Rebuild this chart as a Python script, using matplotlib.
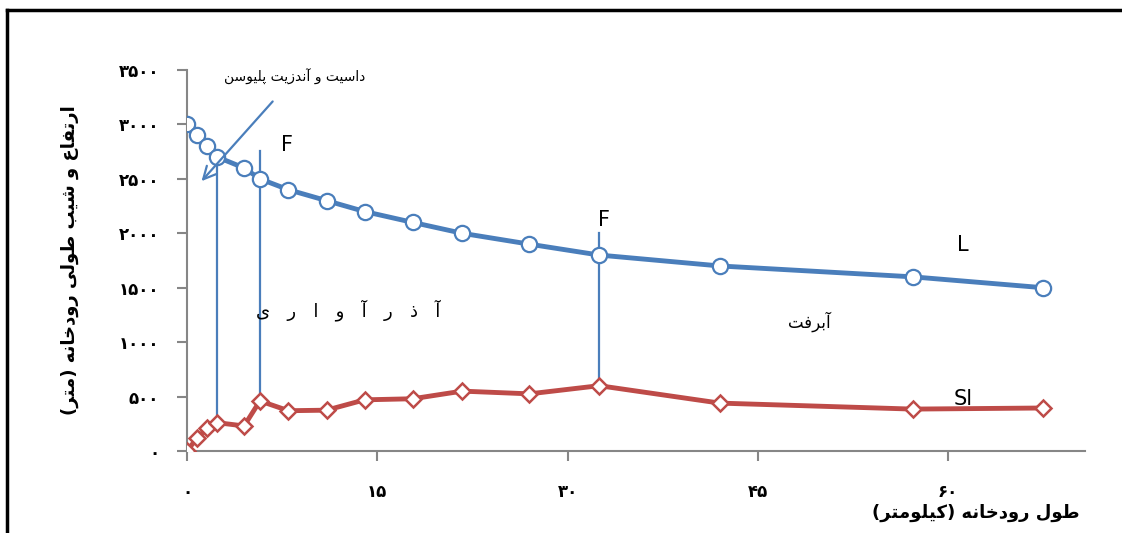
import numpy as np
import matplotlib
matplotlib.use("Agg")
from matplotlib import pyplot as plt
from matplotlib.lines import Line2D

plt.rcParams['font.family'] = ['DejaVu Sans']

# dados
dist = [0, 0.8, 1.6, 2.4, 4.5, 5.75, 8.0, 11.0, 14.0, 17.8, 21.7, 27.0, 32.5, 42.0, 57.2, 67.5]
L = [3000, 2900, 2800, 2700, 2600, 2500, 2400, 2300, 2200, 2100, 2000, 1900, 1800, 1700, 1600, 1500]
Sl = [0, 120, 210, 260, 230, 460, 370, 375, 470, 480, 550, 525, 600, 440, 385, 395]

xticks = [0, 15, 30, 45, 60]
yticks = [0, 500, 1000, 1500, 2000, 2500, 3000, 3500]

ylabel = "ارتفاع و شیب طولی رودخانه (متر)"
xlabel = "طول رودخانه (کیلومتر)"
txt_dacite = "داسیت و آندزیت پلیوسن"
txt_pyro = "آ   ذ   ر   آ   و   ا   ر   ی"
txt_alluv = "آبرفت"

# linhas de falha: x, topo, base
falhas_x = [2.4, 5.75, 32.5]
falhas_top = [2700, 2760, 2000]
falhas_base = [260, 460, 600]

# formas de apresentação (isolada, final, inicial, medial)
FORMS = {
    'ا': ('\uFE8D', '\uFE8E'),
    'آ': ('\uFE81', '\uFE82'),
    'د': ('\uFEA9', '\uFEAA'),
    'ذ': ('\uFEAB', '\uFEAC'),
    'ر': ('\uFEAD', '\uFEAE'),
    'ز': ('\uFEAF', '\uFEB0'),
    'و': ('\uFEED', '\uFEEE'),
    'ب': ('\uFE8F', '\uFE90', '\uFE91', '\uFE92'),
    'پ': ('\uFB56', '\uFB57', '\uFB58', '\uFB59'),
    'ت': ('\uFE95', '\uFE96', '\uFE97', '\uFE98'),
    'خ': ('\uFEA5', '\uFEA6', '\uFEA7', '\uFEA8'),
    'س': ('\uFEB1', '\uFEB2', '\uFEB3', '\uFEB4'),
    'ش': ('\uFEB5', '\uFEB6', '\uFEB7', '\uFEB8'),
    'ط': ('\uFEC1', '\uFEC2', '\uFEC3', '\uFEC4'),
    'ع': ('\uFEC9', '\uFECA', '\uFECB', '\uFECC'),
    'ف': ('\uFED1', '\uFED2', '\uFED3', '\uFED4'),
    'ک': ('\uFB8E', '\uFB8F', '\uFB90', '\uFB91'),
    'ل': ('\uFEDD', '\uFEDE', '\uFEDF', '\uFEE0'),
    'م': ('\uFEE1', '\uFEE2', '\uFEE3', '\uFEE4'),
    'ن': ('\uFEE5', '\uFEE6', '\uFEE7', '\uFEE8'),
    'ه': ('\uFEE9', '\uFEEA', '\uFEEB', '\uFEEC'),
    'ی': ('\uFBFC', '\uFBFD', '\uFBFE', '\uFBFF'),
}

def fa(s):  # junta as letras e inverte para ordem visual
    out = []
    for i, ch in enumerate(s):
        if ch not in FORMS:
            out.append(ch)
            continue
        f = FORMS[ch]
        prev = s[i-1] if i > 0 else ''
        nxt = s[i+1] if i < len(s)-1 else ''
        jp = prev in FORMS and len(FORMS[prev]) == 4
        jn = len(f) == 4 and nxt in FORMS
        if jp and jn:
            out.append(f[3])
        elif jp:
            out.append(f[1])
        elif jn:
            out.append(f[2])
        else:
            out.append(f[0])
    r = ''.join(out)[::-1]
    return r.translate(str.maketrans('()', ')('))

def digitos(n):
    return str(n).translate(str.maketrans('0123456789', '۰۱۲۳۴۵۶۷۸۹'))

fig = plt.figure(figsize=(11.22, 5.33), dpi=100)
ax = fig.add_axes([187/1122, 1-451/533, (1085-187)/1122, (451-70)/533])

azul = '#4A7EBB'
verm = '#BE4B48'

for i in range(len(falhas_x)):
    ax.plot([falhas_x[i], falhas_x[i]], [falhas_top[i], falhas_base[i]], color=azul, lw=1.6, zorder=1)

ax.plot(dist, L, color=azul, lw=3.5, marker='o', ms=11, mfc='white', mec=azul, mew=1.6, zorder=3)
ax.plot(dist, Sl, color=verm, lw=3.5, marker='D', ms=8, mfc='white', mec=verm, mew=1.8, zorder=3)

ax.set_xlim(0, 70.8)
ax.set_ylim(0, 3500)
ax.set_xticks(xticks)
ax.set_xticklabels([digitos(v) for v in xticks], fontsize=12, fontweight='bold')
ax.set_yticks(yticks)
ax.set_yticklabels([digitos(v) for v in yticks], fontsize=12, fontweight='bold')
ax.tick_params(axis='x', direction='out', length=7, width=1.5, color='#868686', pad=16)
ax.tick_params(axis='y', direction='out', length=7, width=1.5, color='#868686', pad=13)
for s in ['top', 'right']:
    ax.spines[s].set_visible(False)
for s in ['left', 'bottom']:
    ax.spines[s].set_color('#868686')
    ax.spines[s].set_linewidth(1.5)

ax.set_ylabel(fa(ylabel), fontsize=13, fontweight='bold')
ax.yaxis.set_label_coords(-0.12, 0.5)
fig.text(1080/1122, 1-513/533, fa(xlabel), fontsize=13, fontweight='bold', ha='right', va='center')

# anotações
ax.annotate('', xy=(1.0, 2460), xytext=(6.9, 3230),
            arrowprops=dict(arrowstyle='->,head_length=0.9,head_width=0.45', color=azul, lw=1.6))
ax.text(8.5, 3440, fa(txt_dacite), fontsize=10, ha='center', va='center')
ax.text(7.9, 2810, 'F', fontsize=15, ha='center', va='center')
ax.text(32.9, 2121, 'F', fontsize=15, ha='center', va='center')
ax.text(61.2, 1892, 'L', fontsize=15, ha='center', va='center')
ax.text(61.2, 480, 'Sl', fontsize=15, ha='center', va='center')
ax.text(49.1, 1185, fa(txt_alluv), fontsize=12, ha='center', va='center')
ax.text(12.7, 1295, fa(txt_pyro), fontsize=13, ha='center', va='center')

# moldura
fig.add_artist(Line2D([7/1122, 7/1122], [0, 1-10/533], color='black', lw=2.5))
fig.add_artist(Line2D([7/1122, 1], [1-10/533, 1-10/533], color='black', lw=2.5))

fig.savefig('out.png', dpi=100)
